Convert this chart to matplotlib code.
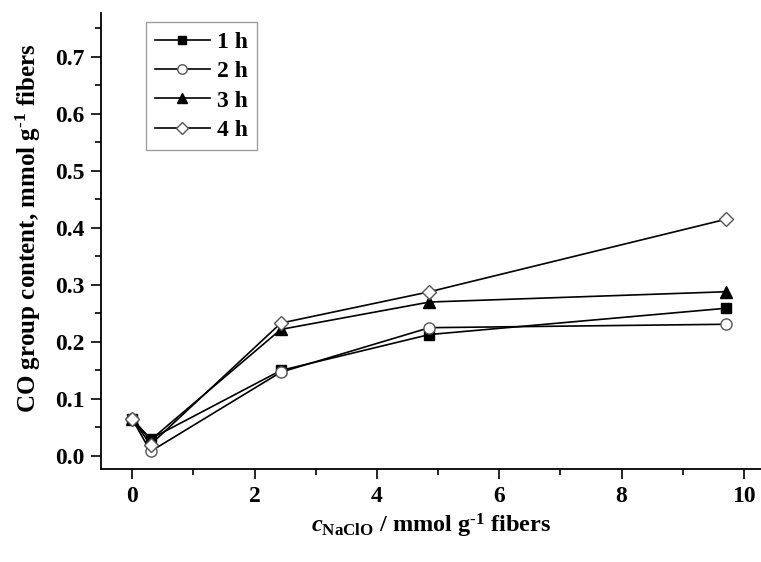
import numpy as np
import matplotlib.pyplot as plt
from matplotlib.ticker import MultipleLocator

plt.rcParams['font.family'] = ['Liberation Serif', 'DejaVu Serif']
plt.rcParams['font.weight'] = 'bold'
plt.rcParams['mathtext.fontset'] = 'custom'
plt.rcParams['mathtext.rm'] = 'Liberation Serif:bold'
plt.rcParams['mathtext.it'] = 'Liberation Serif:bold:italic'
plt.rcParams['mathtext.bf'] = 'Liberation Serif:bold'

# NaClO dose, mmol/g fibers
c_naclo = [0.0, 0.3, 2.43, 4.86, 9.7]
co_1h = [0.065, 0.030, 0.150, 0.213, 0.259]
co_2h = [0.065, 0.008, 0.147, 0.225, 0.231]
co_3h = [0.065, 0.028, 0.222, 0.270, 0.288]
co_4h = [0.065, 0.020, 0.233, 0.288, 0.415]
labels = ['1 h', '2 h', '3 h', '4 h']

fig = plt.figure(figsize=(7.61, 5.62), dpi=100)
ax = fig.add_axes([0.1327, 0.1655, 0.8673, 0.8115])

ax.plot(c_naclo, co_1h, '-s', color='black', lw=1.2, ms=7, mfc='black', mec='black', label=labels[0])
ax.plot(c_naclo, co_2h, '-o', color='black', lw=1.2, ms=8, mfc='white', mec='#555555', label=labels[1])
ax.plot(c_naclo, co_3h, '-^', color='black', lw=1.2, ms=8, mfc='black', mec='black', label=labels[2])
ax.plot(c_naclo, co_4h, '-D', color='black', lw=1.2, ms=7, mfc='white', mec='#555555', label=labels[3])

ax.set_xlim(-0.51, 10.28)
ax.set_ylim(-0.0228, 0.777)
ax.xaxis.set_major_locator(MultipleLocator(2))
ax.xaxis.set_minor_locator(MultipleLocator(1))
ax.yaxis.set_major_locator(MultipleLocator(0.1))
ax.yaxis.set_minor_locator(MultipleLocator(0.05))
ax.yaxis.set_major_formatter(plt.FormatStrFormatter('%.1f'))

for s in ['top', 'right']:
    ax.spines[s].set_visible(False)
for s in ['left', 'bottom']:
    ax.spines[s].set_linewidth(1.3)
ax.tick_params(which='major', direction='out', length=7, width=1.2, labelsize=17, pad=5)
ax.tick_params(which='minor', direction='out', length=4, width=1.2)
for t in ax.get_xticklabels() + ax.get_yticklabels():
    t.set_fontweight('bold')

ax.set_xlabel(r'$c_{\mathrm{NaClO}}$ / mmol g$^{\text{-1}}$ fibers', fontsize=17.5, fontweight='bold', labelpad=4)
ax.set_ylabel(r'CO group content, mmol g$^{\text{-1}}$ fibers', fontsize=18, fontweight='bold')
ax.yaxis.set_label_coords(-0.088, 0.528)

leg = ax.legend(loc='upper left', bbox_to_anchor=(0.068, 0.98), fontsize=17, frameon=True,
                fancybox=False, edgecolor='#888888', handlelength=2.3, handletextpad=0.3,
                borderpad=0.4, labelspacing=0.33, borderaxespad=0, markerscale=0.85)
leg.get_frame().set_linewidth(1.0)

fig.savefig('out.png', dpi=100)
